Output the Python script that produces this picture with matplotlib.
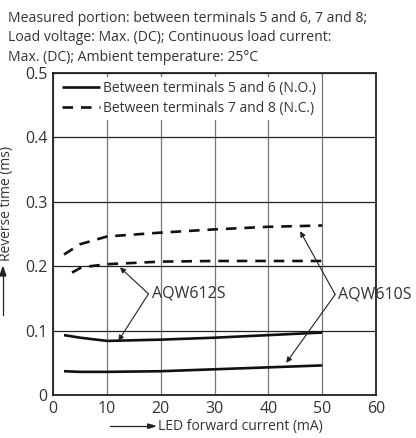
import matplotlib.pyplot as plt

plt.rcParams['font.family'] = ['Open Sans', 'DejaVu Sans']

# LED forward current (mA)
x_no_610 = [2, 5, 10, 20, 30, 40, 50]
y_no_610 = [0.037, 0.036, 0.036, 0.037, 0.040, 0.043, 0.046]
x_no_612 = [2, 5, 10, 20, 30, 40, 50]
y_no_612 = [0.093, 0.089, 0.084, 0.086, 0.089, 0.093, 0.097]
x_nc_612 = [3.5, 5, 7, 10, 20, 30, 40, 50]
y_nc_612 = [0.190, 0.197, 0.200, 0.203, 0.207, 0.208, 0.208, 0.208]
x_nc_610 = [2, 5, 10, 20, 30, 40, 50]
y_nc_610 = [0.218, 0.234, 0.246, 0.252, 0.257, 0.261, 0.263]

xticks = [0, 10, 20, 30, 40, 50, 60]
yticks = [0, 0.1, 0.2, 0.3, 0.4, 0.5]
yticklabels = ['0', '0.1', '0.2', '0.3', '0.4', '0.5']

fig = plt.figure(figsize=(4.16, 4.38), dpi=100)
ax = fig.add_axes([0.128, 0.098, 0.776, 0.736])

txt = '#333333'
ax.plot(x_no_610, y_no_610, color='#111111', lw=1.9, solid_capstyle='butt')
ax.plot(x_no_612, y_no_612, color='#111111', lw=1.9, solid_capstyle='butt',
        label='Between terminals 5 and 6 (N.O.)')
ax.plot(x_nc_612, y_nc_612, color='#111111', lw=1.9, ls=(0, (4, 3)),
        label='Between terminals 7 and 8 (N.C.)')
ax.plot(x_nc_610, y_nc_610, color='#111111', lw=1.9, ls=(0, (4, 3)))

ax.set_xlim(0, 60)
ax.set_ylim(0, 0.5)
ax.set_xticks(xticks)
ax.set_yticks(yticks)
ax.set_yticklabels(yticklabels)
ax.tick_params(length=0, labelsize=11.5, labelcolor=txt, pad=4)
ax.xaxis.grid(True, color='#777777', lw=0.9)
ax.yaxis.grid(True, color='#222222', lw=0.9)
for s in ax.spines.values():
    s.set_linewidth(1.3)
    s.set_color('#222222')

leg = ax.legend(loc='upper left', frameon=True, fontsize=10, handlelength=2.8,
                borderaxespad=0.3, labelspacing=0.35, handletextpad=0.2,
                borderpad=0.3)
leg.get_frame().set_edgecolor('none')
leg.get_frame().set_facecolor('white')
leg.get_frame().set_alpha(1)
for t in leg.get_texts():
    t.set_color(txt)

# annotations
ap = dict(arrowstyle='-|>', color='#222222', lw=0.8, mutation_scale=8,
          shrinkA=0, shrinkB=0)
ax.annotate('', xy=(12.4, 0.198), xytext=(17.7, 0.157), arrowprops=ap)
ax.annotate('', xy=(12.1, 0.084), xytext=(17.7, 0.157), arrowprops=ap)
ax.text(18.3, 0.157, 'AQW612S', fontsize=11.5, color=txt, va='center', ha='left')
ax.annotate('', xy=(45.9, 0.254), xytext=(52.4, 0.156), arrowprops=ap)
ax.annotate('', xy=(43.3, 0.050), xytext=(52.4, 0.156), arrowprops=ap)
ax.text(53.0, 0.156, 'AQW610S', fontsize=11.5, color=txt, va='center', ha='left')

fig.text(0.02, 0.975, 'Measured portion: between terminals 5 and 6, 7 and 8;\n'
         'Load voltage: Max. (DC); Continuous load current:\n'
         'Max. (DC); Ambient temperature: 25°C',
         fontsize=10.1, color=txt, va='top', ha='left', linespacing=1.4)

# axis labels with arrows
fig.text(0.38, 0.008, 'LED forward current (mA)', fontsize=10, color=txt,
         ha='left', va='bottom')
fig.add_artist(plt.Line2D([0.265, 0.355], [0.027, 0.027], color='#222222', lw=0.9))
fig.patches.append(plt.Polygon([[0.355, 0.022], [0.355, 0.032], [0.373, 0.027]],
                               closed=True, color='#222222', transform=fig.transFigure))

fig.text(0.016, 0.535, 'Reverse time (ms)', fontsize=10, color=txt, rotation=90,
         ha='center', va='center')
fig.add_artist(plt.Line2D([0.007, 0.007], [0.28, 0.37], color='#222222', lw=0.9))
fig.patches.append(plt.Polygon([[0.0, 0.37], [0.014, 0.37], [0.007, 0.39]],
                               closed=True, color='#222222', transform=fig.transFigure))

fig.savefig('out.png', dpi=100)
